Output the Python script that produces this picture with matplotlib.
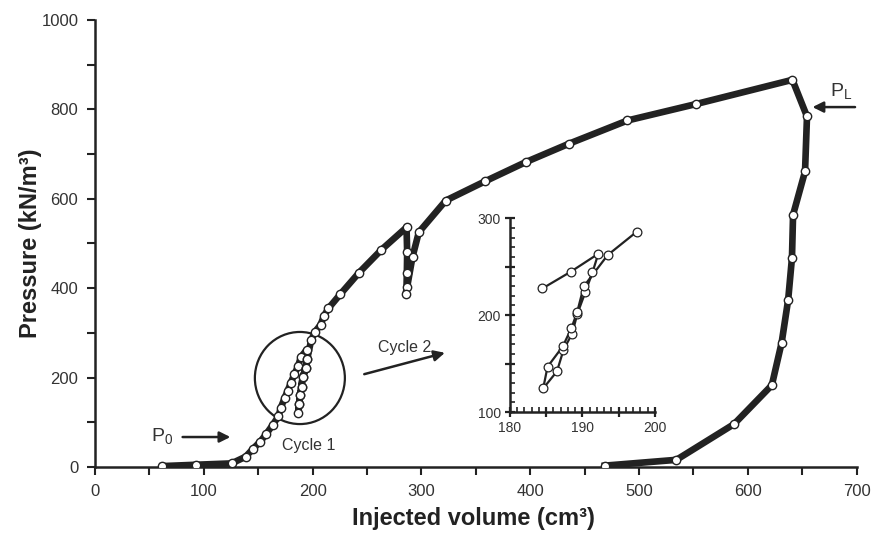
import matplotlib
matplotlib.use("Agg")
import matplotlib.pyplot as plt
from matplotlib.patches import Ellipse
from matplotlib.ticker import MultipleLocator, FixedLocator

plt.rcParams['font.family'] = ['Liberation Sans', 'DejaVu Sans']
plt.rcParams['mathtext.fontset'] = 'custom'
plt.rcParams['mathtext.rm'] = 'Liberation Sans'
plt.rcParams['mathtext.it'] = 'Liberation Sans:italic'
plt.rcParams['mathtext.bf'] = 'Liberation Sans:bold'

# ---- main curve data (injected volume cm3, pressure kN/m3) ----
main_x = [62, 93, 125.5, 138.5, 145, 152, 157.5, 163.3, 168.5, 170.9, 174.2, 177, 179.8, 183.1,
          186.8, 189, 194.5,
          195, 193.8, 190.8, 189.8, 188.6, 187.7, 186.8,
          187.7, 188.6, 189.8, 190.8, 193.8, 195,
          198.7, 202.4, 207.3, 210.4, 214.6, 225.3, 242.8, 263.3, 286.3,
          286.9, 286.6, 286.3, 285.8, 291.8, 297.6,
          322.4, 358.5, 395.9, 435.5, 489.3, 552.7, 640.9,
          654.3, 652.5, 641.5, 640.5, 637, 631, 622, 587.3, 534.3, 468.5]
main_y = [2, 5, 8, 23, 40, 57, 74, 94, 113, 133, 154, 170, 187, 207,
          226, 245, 262,
          241, 221, 201, 180, 161, 141, 120,
          141, 161, 180, 201, 221, 241,
          284, 303, 318, 338, 355, 386, 435, 486, 536,
          480, 433, 402, 388, 470, 525,
          596, 639, 682, 723, 775, 812, 866,
          784, 661, 564, 468, 374, 278, 183, 96, 16, 3]

# ---- inset (cycle 1 detail) ----
inset_x = [184.5, 188.4, 192.2, 191.4, 190.4, 189.3, 188.6, 187.4, 186.5, 184.6,
           185.2, 187.3, 188.5, 189.3, 190.2, 193.5, 197.5]
inset_y = [227.5, 244.7, 263.2, 244, 223.4, 201, 181, 164, 142, 124.4,
           146.7, 167.7, 186.6, 203.4, 229.6, 261.9, 285.9]

x_ticks = [0, 100, 200, 300, 400, 500, 600, 700]
y_ticks = [0, 200, 400, 600, 800, 1000]
inset_x_ticks = [180, 190, 200]
inset_y_ticks = [100, 200, 300]

LC = '#222222'
TC = '#333333'

fig = plt.figure(figsize=(8.76, 5.38), dpi=100)
ax = fig.add_axes([0.1084, 0.132, 0.8696, 0.831])

ax.plot(main_x, main_y, '-', color=LC, lw=4.8, marker='o', ms=6.0,
        mfc='white', mec=LC, mew=1.0, zorder=3, solid_joinstyle='round')

ax.set_xlim(0, 700)
ax.set_ylim(0, 1000)
ax.set_xticks(x_ticks)
ax.set_yticks(y_ticks)
ax.xaxis.set_minor_locator(MultipleLocator(50))
ax.yaxis.set_minor_locator(MultipleLocator(100))
for s in ['top', 'right']:
    ax.spines[s].set_visible(False)
for s in ['left', 'bottom']:
    ax.spines[s].set_linewidth(1.8)
    ax.spines[s].set_color(LC)
ax.tick_params(which='both', direction='out', width=1.5, color=LC, labelsize=12, labelcolor=TC)
ax.tick_params(which='major', length=6, pad=6)
ax.tick_params(which='minor', length=6)
ax.set_xlabel('Injected volume (cm³)', fontsize=17, fontweight='bold', color=LC)
ax.set_ylabel('Pressure (kN/m³)', fontsize=17, fontweight='bold', color=LC)
ax.xaxis.set_label_coords(0.497, -0.09)
ax.yaxis.set_label_coords(-0.07, 0.5)

# circle around cycle 1
ax.add_patch(Ellipse((188.3, 199), width=82.7, height=206, fill=False, lw=1.6,
                     color=LC, zorder=2))
ax.text(196.5, 47, 'Cycle 1', fontsize=11.5, color=TC, ha='center', va='center')
ax.text(284.8, 268, 'Cycle 2', fontsize=11.5, color=TC, ha='center', va='center')

# arrows
ax.annotate('', xy=(324, 257), xytext=(245, 206),
            arrowprops=dict(arrowstyle='-|>', lw=1.8, color=LC, mutation_scale=16))
ax.annotate('', xy=(127, 67), xytext=(78, 67),
            arrowprops=dict(arrowstyle='-|>', lw=1.8, color=LC, mutation_scale=16))
ax.text(62, 69, r'P$_\mathregular{0}$', fontsize=14, color=TC, ha='center', va='center')
ax.annotate('', xy=(656.8, 805), xytext=(701, 805), annotation_clip=False,
            arrowprops=dict(arrowstyle='-|>', lw=1.8, color=LC, mutation_scale=16))
ax.text(686, 840, r'P$_\mathregular{L}$', fontsize=14, color=TC, ha='center', va='center',
        clip_on=False)

# inset axes
ins = fig.add_axes([0.582, 0.234, 0.1655, 0.3606])
ins.plot(inset_x, inset_y, '-', color=LC, lw=1.6, marker='o', ms=6.3,
         mfc='white', mec=LC, mew=0.9, zorder=3)
ins.set_xlim(180, 200)
ins.set_ylim(100, 300)
ins.patch.set_alpha(0)
for s in ['top', 'right']:
    ins.spines[s].set_visible(False)
for s in ['left', 'bottom']:
    ins.spines[s].set_linewidth(1.8)
    ins.spines[s].set_color(LC)
ins.xaxis.set_major_locator(FixedLocator([180, 185, 190, 195, 200]))
ins.xaxis.set_major_formatter(plt.FuncFormatter(lambda v, p: f'{int(v)}' if int(v) in inset_x_ticks else ''))
ins.yaxis.set_major_locator(FixedLocator([100, 150, 200, 250, 300]))
ins.yaxis.set_major_formatter(plt.FuncFormatter(lambda v, p: f'{int(v)}' if int(v) in inset_y_ticks else ''))
ins.xaxis.set_minor_locator(MultipleLocator(1))
ins.yaxis.set_minor_locator(MultipleLocator(10))
ins.tick_params(which='major', direction='inout', length=7, width=1.6, color=LC,
                labelsize=10, labelcolor=TC, pad=3)
ins.tick_params(which='minor', direction='in', length=3.5, width=1.2, color=LC)

fig.savefig('out.png', dpi=100)
